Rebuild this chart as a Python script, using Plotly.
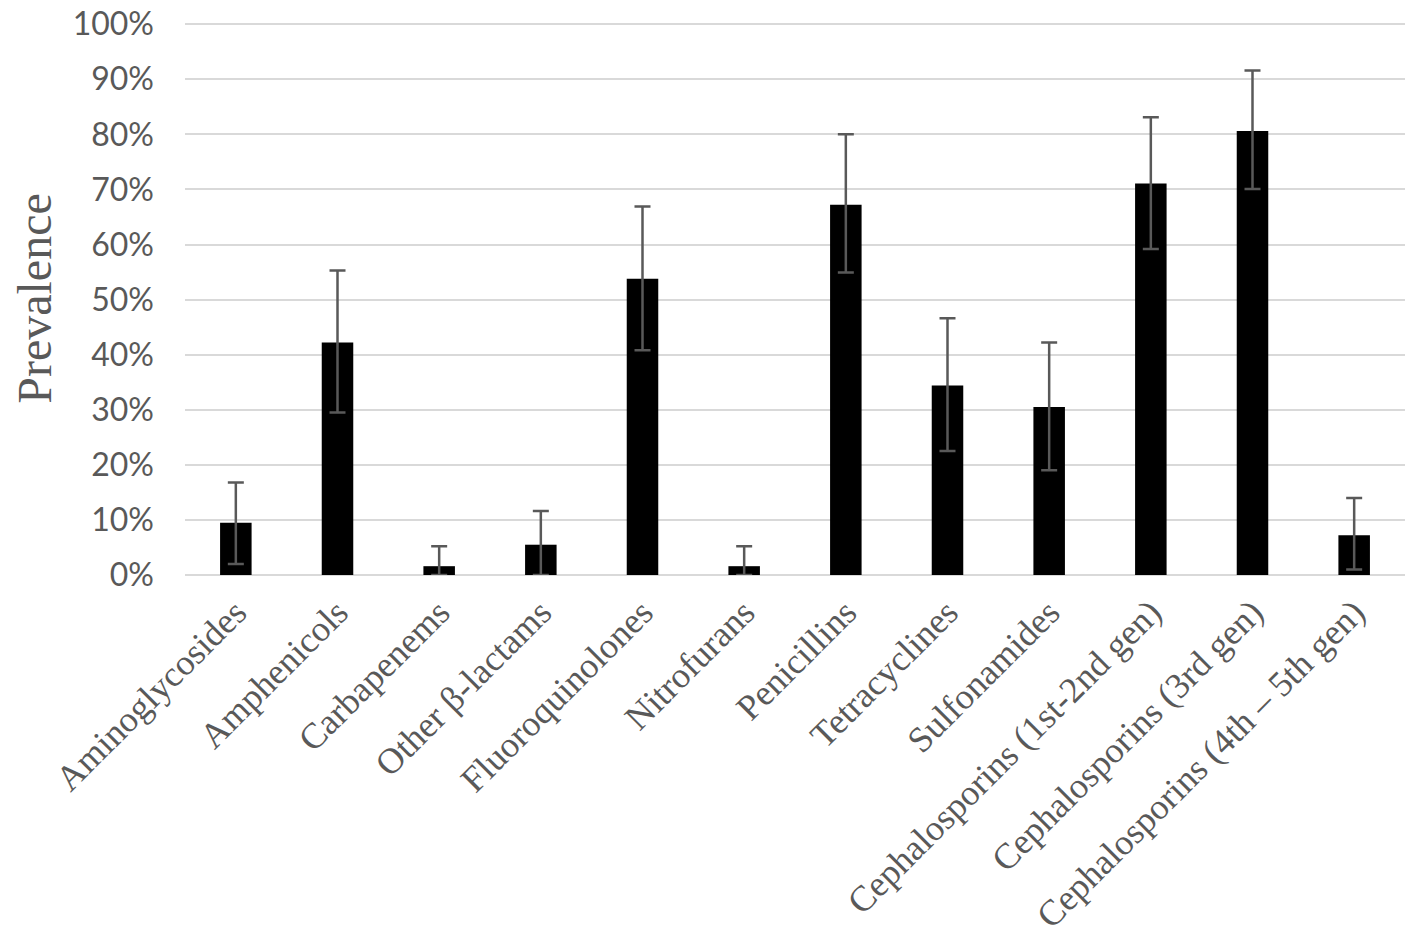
import plotly.graph_objects as go

categories = ["Aminoglycosides", "Amphenicols", "Carbapenems", "Other β-lactams",
              "Fluoroquinolones", "Nitrofurans", "Penicillins", "Tetracyclines",
              "Sulfonamides", "Cephalosporins (1st-2nd gen)", "Cephalosporins (3rd gen)",
              "Cephalosporins (4th – 5th gen)"]
prevalence = [9.5, 42.2, 1.6, 5.5, 53.8, 1.6, 67.2, 34.4, 30.5, 71.1, 80.6, 7.2]
ci_upper = [16.8, 55.3, 5.2, 11.6, 66.9, 5.2, 80.0, 46.6, 42.2, 83.1, 91.6, 14.0]
ci_lower = [2.0, 29.5, 0.0, 0.0, 40.8, 0.0, 54.9, 22.5, 19.0, 59.2, 70.1, 1.0]
y_ticks = [0, 10, 20, 30, 40, 50, 60, 70, 80, 90, 100]
y_tick_labels = ["0%", "10%", "20%", "30%", "40%", "50%", "60%", "70%", "80%", "90%", "100%"]

err_plus = [u - v for u, v in zip(ci_upper, prevalence)]
err_minus = [v - l for v, l in zip(prevalence, ci_lower)]

fig = go.Figure()
fig.add_trace(go.Bar(
    x=categories, y=prevalence,
    marker=dict(color="#000000", line=dict(width=0)),
    error_y=dict(type="data", symmetric=False, array=err_plus, arrayminus=err_minus,
                 color="#595959", thickness=2.5, width=8),
))

fig.update_layout(
    width=1417, height=948,
    margin=dict(l=177, r=20, t=14, b=381),
    paper_bgcolor="white", plot_bgcolor="white",
    bargap=0.69,
    showlegend=False,
    xaxis=dict(
        tickangle=-45,
        tickfont=dict(family="Liberation Serif", size=36, color="#595959"),
        showgrid=False, showline=False, ticks="",
        ticklabelstandoff=8,
        automargin=False,
    ),
    yaxis=dict(
        range=[0, 100.4],
        tickmode="array",
        tickvals=y_ticks,
        ticktext=y_tick_labels,
        tickfont=dict(family="Lato", size=32, color="#595959"),
        ticklabeloverflow="allow",
        showgrid=True, gridcolor="#d9d9d9", gridwidth=2,
        zeroline=True, zerolinecolor="#d9d9d9", zerolinewidth=2,
        showline=False, ticks="",
        ticklabelstandoff=30,
        automargin=False,
        title=dict(text="Prevalence",
                   font=dict(family="Liberation Serif", size=48, color="#595959"),
                   standoff=32),
    ),
)

fig.write_html("out.html")
